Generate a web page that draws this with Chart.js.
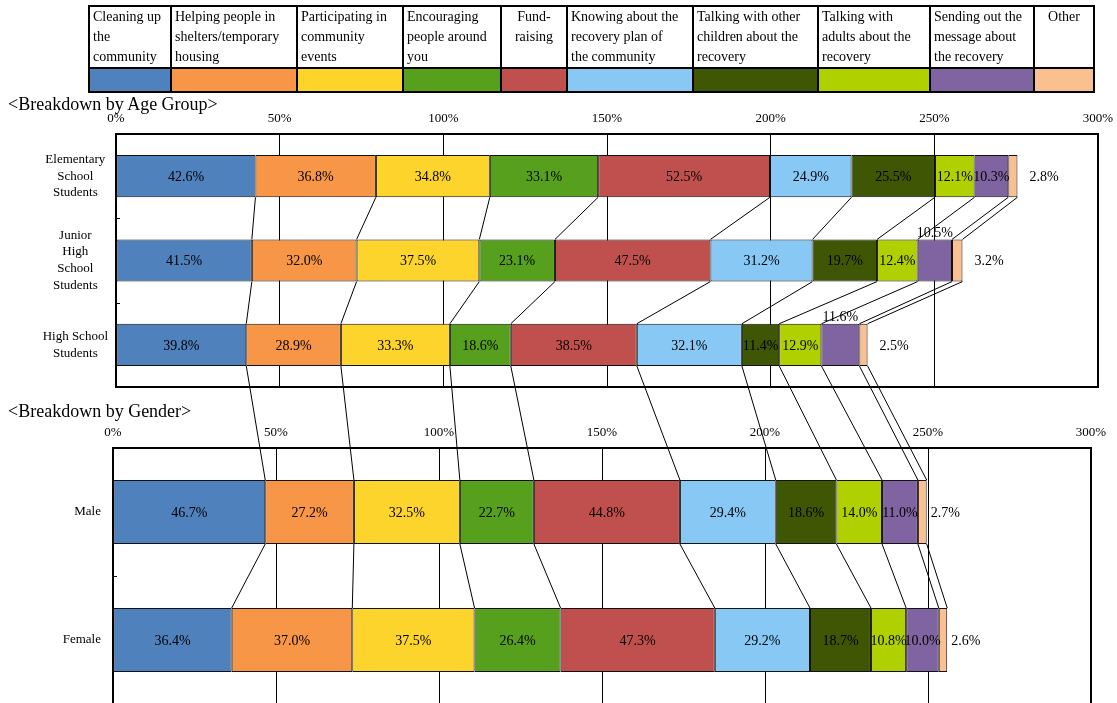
<!DOCTYPE html>
<html>
<head>
<meta charset="utf-8">
<script src="https://cdn.jsdelivr.net/npm/chart.js@4.4.1/dist/chart.umd.min.js"></script>
<style>
  body { margin: 0; width: 1117px; height: 703px; overflow: hidden; position: relative; background: #fff;
         font-family: "Liberation Serif", "Times New Roman", serif; color: #000; }
  canvas { position: absolute; left: 0; }
  #ageCanvas { top: 90px; }
  #genderCanvas { top: 390px; }
  #links { top: 0; pointer-events: none; }
  .title { position: absolute; left: 8px; font-size: 18px; line-height: 22px; white-space: nowrap; z-index: 2; }
  #legend { position: absolute; left: 88px; top: 5px; border-collapse: collapse; table-layout: fixed; z-index: 2; }
  #legend td { border: 2px solid #000; padding: 0 3px; font-size: 14px; line-height: 20px; vertical-align: top; white-space: nowrap; }
  #legend tr.names td { height: 56px; }
  #legend tr.swatches td { height: 22px; padding: 0; }
  #legend td.mid { text-align: center; }
</style>
</head>
<body>
<table id="legend"><colgroup id="cols"></colgroup><tr class="names" id="nameRow"></tr><tr class="swatches" id="swatchRow"></tr></table>
<div class="title" style="top:93px">&lt;Breakdown by Age Group&gt;</div>
<div class="title" style="top:400px">&lt;Breakdown by Gender&gt;</div>
<canvas id="ageCanvas" width="1117" height="300"></canvas>
<canvas id="genderCanvas" width="1117" height="314"></canvas>
<canvas id="links" width="1117" height="703"></canvas>
<script>
// activity categories (legend order = stacking order)
const seriesNames = [
  ["Cleaning up", "the", "community"],
  ["Helping people in", "shelters/temporary", "housing"],
  ["Participating in", "community", "events"],
  ["Encouraging", "people around", "you"],
  ["Fund-", "raising"],
  ["Knowing about the", "recovery plan of", "the community"],
  ["Talking with other", "children about the", "recovery"],
  ["Talking with", "adults about the", "recovery"],
  ["Sending out the", "message about", "the recovery"],
  ["Other"]
];
const seriesColors = ["#4F81BD", "#F79646", "#FDD42B", "#56A01D", "#C0504D",
                      "#87C8F5", "#3F5604", "#B0D000", "#8064A2", "#FAC08F"];

// age group chart
const ageGroups = [["Elementary", "School", "Students"], ["Junior", "High", "School", "Students"], ["High School", "Students"]];
const elementaryValues = [42.6, 36.8, 34.8, 33.1, 52.5, 24.9, 25.5, 12.1, 10.3, 2.8];
const juniorHighValues = [41.5, 32.0, 37.5, 23.1, 47.5, 31.2, 19.7, 12.4, 10.5, 3.2];
const highSchoolValues = [39.8, 28.9, 33.3, 18.6, 38.5, 32.1, 11.4, 12.9, 11.6, 2.5];

// gender chart
const genders = ["Male", "Female"];
const maleValues = [46.7, 27.2, 32.5, 22.7, 44.8, 29.4, 18.6, 14.0, 11.0, 2.7];
const femaleValues = [36.4, 37.0, 37.5, 26.4, 47.3, 29.2, 18.7, 10.8, 10.0, 2.6];

// x axis: 0% .. 300%
const axisMax = 300;
const axisStep = 50;

// legend table
const colWidths = [82, 126, 106, 98, 66, 126, 125, 112, 104, 60];
const cols = document.getElementById("cols");
const nameRow = document.getElementById("nameRow");
const swatchRow = document.getElementById("swatchRow");
seriesNames.forEach((name, i) => {
  let col = document.createElement("col");
  col.style.width = colWidths[i] + "px";
  cols.appendChild(col);
  let cell = document.createElement("td");
  cell.innerHTML = name.join("<br>");
  if (name.length < 3) cell.className = "mid";
  nameRow.appendChild(cell);
  let sw = document.createElement("td");
  sw.style.background = seriesColors[i];
  swatchRow.appendChild(sw);
});

const serif = '"Liberation Serif", "Times New Roman", serif';

// frame, inner tick marks and value labels
const decorPlugin = {
  id: "decor",
  beforeDatasetsDraw(chart) {
    const { ctx, chartArea: a } = chart;
    const y = chart.scales.y;
    ctx.save();
    ctx.strokeStyle = "#000";
    ctx.lineWidth = 2;
    ctx.strokeRect(a.left, a.top, a.right - a.left, a.bottom - a.top);
    ctx.lineWidth = 1;
    for (let i = 0; i < chart.data.labels.length - 1; i++) {
      const yy = Math.round((y.getPixelForValue(i) + y.getPixelForValue(i + 1)) / 2) + 0.5;
      ctx.beginPath();
      ctx.moveTo(a.left, yy);
      ctx.lineTo(a.left + 4, yy);
      ctx.stroke();
    }
    ctx.restore();
  },
  afterDatasetsDraw(chart, args, opts) {
    const ctx = chart.ctx;
    ctx.save();
    ctx.font = "14px " + serif;
    ctx.fillStyle = "#000";
    ctx.textBaseline = "middle";
    const last = chart.data.datasets.length - 1;
    chart.data.datasets.forEach((ds, k) => {
      chart.getDatasetMeta(k).data.forEach((bar, r) => {
        const txt = ds.data[r].toFixed(1) + "%";
        if (k === last) {
          ctx.textAlign = "left";
          ctx.fillText(txt, bar.x + opts.gap, bar.y + 1);
        } else if ((opts.raised || []).includes(r + "-" + k)) {
          ctx.textAlign = "center";
          ctx.fillText(txt, (bar.x + bar.base) / 2, bar.y - bar.height / 2 - 6);
        } else {
          ctx.textAlign = "center";
          ctx.fillText(txt, (bar.x + bar.base) / 2, bar.y + 1);
        }
      });
    });
    ctx.restore();
  }
};

function makeChart(canvasId, labels, rows, cfg) {
  return new Chart(document.getElementById(canvasId), {
    type: "bar",
    data: {
      labels: labels,
      datasets: seriesNames.map((name, k) => ({
        label: name.join(" "),
        data: rows.map(row => row[k]),
        backgroundColor: seriesColors[k],
        borderColor: "#111",
        borderWidth: 1,
        borderSkipped: false,
        categoryPercentage: 1,
        barPercentage: 0.5
      }))
    },
    options: {
      indexAxis: "y",
      responsive: false,
      animation: false,
      layout: { padding: cfg.padding },
      plugins: {
        legend: { display: false },
        tooltip: { enabled: false },
        decor: { gap: cfg.gap, raised: cfg.raised }
      },
      scales: {
        x: {
          position: "top",
          stacked: true,
          min: 0,
          max: axisMax,
          afterFit: s => { s.height = cfg.axisHeight; s.paddingLeft = 0; s.paddingRight = 0; },
          ticks: {
            stepSize: axisStep,
            padding: 8,
            color: "#000",
            font: { family: serif, size: 13 },
            callback: v => v + "%"
          },
          grid: { color: "#000", lineWidth: 1, drawTicks: false },
          border: { display: false }
        },
        y: {
          stacked: true,
          afterFit: s => { s.width = cfg.axisWidth; s.paddingTop = 0; s.paddingBottom = 0; },
          ticks: {
            color: "#000",
            crossAlign: cfg.crossAlign,
            padding: cfg.labelPad,
            font: { family: serif, size: 13, lineHeight: 1.3 }
          },
          grid: { display: false, drawTicks: false },
          border: { display: false }
        }
      }
    },
    plugins: [decorPlugin]
  });
}

const ageChart = makeChart("ageCanvas", ageGroups, [elementaryValues, juniorHighValues, highSchoolValues], {
  padding: { left: 0, right: 19, top: 0, bottom: 3 },
  axisHeight: 44, axisWidth: 116, crossAlign: "center", labelPad: 8,
  gap: 12, raised: ["1-8", "2-8"]
});

const genderChart = makeChart("genderCanvas", genders, [maleValues, femaleValues], {
  padding: { left: 0, right: 26, top: 0, bottom: 0 },
  axisHeight: 58, axisWidth: 113, crossAlign: "near", labelPad: 12,
  gap: 4, raised: []
});

// connector lines between the segment ends of consecutive bars (across both charts)
function drawLinks() {
  const ctx = document.getElementById("links").getContext("2d");
  const rows = [];
  [ageChart, genderChart].forEach(ch => {
    const top = ch.canvas.offsetTop, left = ch.canvas.offsetLeft;
    ch.data.labels.forEach((lab, r) => {
      rows.push(ch.data.datasets.map((ds, k) => {
        const bar = ch.getDatasetMeta(k).data[r];
        return { x: left + bar.x, top: top + bar.y - bar.height / 2, bottom: top + bar.y + bar.height / 2 };
      }));
    });
  });
  ctx.strokeStyle = "#000";
  ctx.lineWidth = 1;
  for (let r = 0; r < rows.length - 1; r++) {
    rows[r].forEach((seg, k) => {
      const next = rows[r + 1][k];
      ctx.beginPath();
      ctx.moveTo(seg.x, seg.bottom);
      ctx.lineTo(next.x, next.top);
      ctx.stroke();
    });
  }
}
drawLinks();
</script>
</body>
</html>
